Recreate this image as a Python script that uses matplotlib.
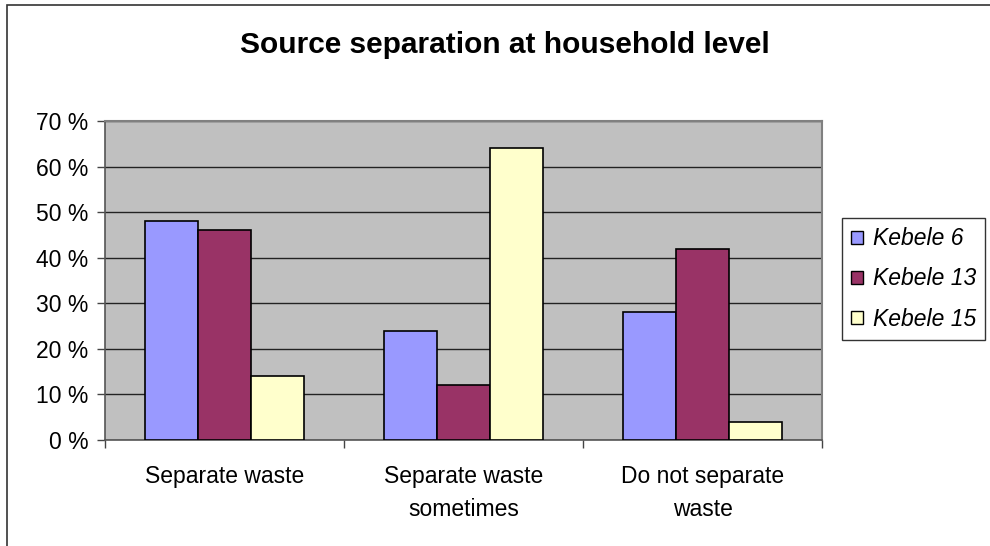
import matplotlib
matplotlib.use("Agg")
import matplotlib.pyplot as plt
from matplotlib.patches import Patch, Rectangle
import numpy as np

plt.rcParams['font.family'] = ['Liberation Sans', 'DejaVu Sans']

title = "Source separation at household level"
categories = ["Separate waste", "Separate waste\nsometimes", "Do not separate\nwaste"]
series_names = ["Kebele 6", "Kebele 13", "Kebele 15"]
kebele6 = [48, 24, 28]
kebele13 = [46, 12, 42]
kebele15 = [14, 64, 4]
colors = ["#9999FF", "#993366", "#FFFFCC"]
yticks = [0, 10, 20, 30, 40, 50, 60, 70]
ytick_labels = ["0 %", "10 %", "20 %", "30 %", "40 %", "50 %", "60 %", "70 %"]

W, H = 990, 546
fig = plt.figure(figsize=(W / 100, H / 100), dpi=100)
fig.patch.set_facecolor("white")

# outer chart border (right and bottom edges fall outside the image)
fig.add_artist(Rectangle((7 / W, -0.05), 1.2, 1 - 5 / H + 0.05,
                         transform=fig.transFigure, fill=False,
                         edgecolor="#333333", linewidth=1.2))

left, right, top, bottom = 105, 822, 121, 440
ax = fig.add_axes([left / W, 1 - bottom / H, (right - left) / W, (bottom - top) / H])
ax.set_facecolor("#C0C0C0")

FS = 16.5
x = np.arange(len(categories))
bw = 0.222
for i, (vals, c, name) in enumerate(zip([kebele6, kebele13, kebele15], colors, series_names)):
    ax.bar(x + (i - 1) * bw, vals, width=bw, color=c, edgecolor="black",
           linewidth=1.2, label=name, zorder=3)

ax.set_xlim(-0.5, len(categories) - 0.5)
ax.set_ylim(0, 70)
ax.set_yticks(yticks)
ax.set_yticklabels(ytick_labels, fontsize=FS)
ax.yaxis.grid(True, color="#222222", linewidth=1.0, zorder=1)
ax.set_axisbelow(True)

ax.set_xticks(x)
ax.set_xticklabels(categories, fontsize=FS, linespacing=1.55)
ax.set_xticks(np.arange(-0.5, len(categories)), minor=True)
ax.tick_params(axis="x", which="major", length=0, pad=18)
ax.tick_params(axis="x", which="minor", length=5.8, width=1, color="#444444", direction="out")
ax.tick_params(axis="y", length=5.8, width=1, color="#444444", direction="out", pad=6)

for s in ["top", "right"]:
    ax.spines[s].set_color("#808080")
    ax.spines[s].set_linewidth(1.5)
ax.spines["left"].set_color("#555555")
ax.spines["left"].set_linewidth(1.2)
ax.spines["bottom"].set_color("#555555")
ax.spines["bottom"].set_linewidth(1.2)

fig.text(505 / W, 1 - 45 / H, title, ha="center", va="center",
         fontsize=21.5, fontweight="bold")

handles = [Patch(facecolor=c, edgecolor="black", linewidth=1.0) for c in colors]
leg = fig.legend(handles, series_names, loc="upper left",
                 bbox_to_anchor=(842 / W, 1 - 218 / H),
                 prop={"size": FS, "style": "italic"},
                 frameon=True, fancybox=False, edgecolor="black",
                 handlelength=0.5, handleheight=0.5, handletextpad=0.45,
                 labelspacing=0.75, borderpad=0.4, borderaxespad=0)
leg.get_frame().set_linewidth(1.0)

fig.savefig("out.png", dpi=100)
